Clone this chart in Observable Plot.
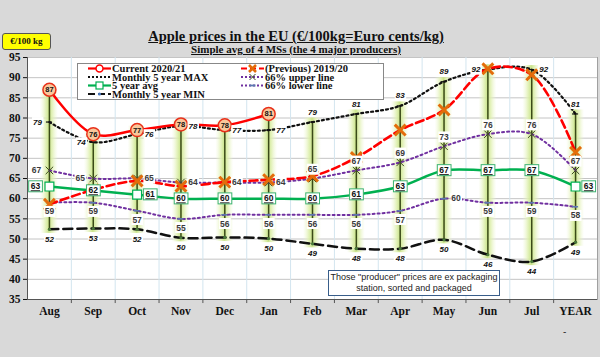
<!DOCTYPE html>
<html><head><meta charset="utf-8">
<script src="https://cdn.jsdelivr.net/npm/d3@7"></script>
<script src="https://cdn.jsdelivr.net/npm/@observablehq/plot@0.6"></script>
<style>
body{margin:0;background:#d9d9d9;}
#wrap{position:relative;width:600px;height:357px;background:#d9d9d9;overflow:hidden;font-family:"Liberation Serif",serif;}
#wrap > svg.main{position:absolute;left:0;top:0;}
.title{position:absolute;left:0;width:592px;text-align:center;font-weight:bold;text-decoration:underline;color:#111;white-space:nowrap;}
#unit{position:absolute;left:2px;top:33px;width:47px;height:15px;background:#ffff00;border:1px solid #555;border-radius:3px;font:bold 9px "Liberation Serif",serif;text-align:center;line-height:15px;color:#111;}
#note{position:absolute;left:328px;top:270px;width:170px;height:23px;background:#fff;border:1.5px solid #385d8a;font:9px "Liberation Sans",Arial,sans-serif;text-align:center;line-height:10.5px;color:#222;padding-top:1px;}
#wrap > svg#legend{position:absolute;left:77px;top:63px;}
#dash{position:absolute;left:563px;top:326px;font:10px "Liberation Sans",sans-serif;color:#333;}
</style></head><body><div id="wrap"></div><script>
const months = ["Aug","Sep","Oct","Nov","Dec","Jan","Feb","Mar","Apr","May","Jun","Jul","YEAR"];
const current2021 = [87, 76, 77, 78.4, 78.2, 81];
const previous1920 = [58.6, 62.2, 64.4, 63.1, 64.1, 64.7, 65.6, 70.2, 77, 82, 92.2, 90.7, 71.5];
const max5 = [79, 74, 76, 78, 77, 77, 79, 81, 83, 89, 92, 92, 81];
const min5 = [52.4, 52.6, 52.4, 50.3, 50.4, 50.1, 48.8, 47.6, 47.6, 49.8, 46.1, 44.4, 49.2];
const upper66 = [67, 65, 65, 64, 64, 64, 65, 67, 69, 73, 76, 76, 67];
const lower66 = [59, 59, 57, 55, 56, 56, 56, 56, 57, 60, 59, 59, 58];
const avg5 = [63, 62, 61, 60, 60, 60, 60, 61, 63, 67, 67, 67, 63];
const yTicks = [35, 40, 45, 50, 55, 60, 65, 70, 75, 80, 85, 90, 95];
const titleText = "Apple prices in the EU (€/100kg=Euro cents/kg)";
const subtitleText = "Simple avg of 4 MSs (the 4 major producers)";
const unitText = "€/100 kg";
const noteLines = ["Those \"producer\" prices are ex packaging", "station, sorted and packaged"];
const legendLabels = ["Current 2020/21", "Monthly 5 year MAX", "5 year avg", "Monthly 5 year MIN", "(Previous) 2019/20", "66% upper line", "66% lower line"];

const W = 600, H = 357, mL = 27, mR = 3, mT = 57, mB = 58;
const bw = (W - mL - mR) / months.length;
const rows = months.map((m, i) => {
  const r = {m, i, cur: current2021[i], prev: previous1920[i], max: max5[i], min: min5[i], up: upper66[i], lo: lower66[i], avg: avg5[i]};
  const vals = [r.cur, r.prev, r.max, r.min, r.up, r.lo, r.avg].filter(v => v != null);
  r.hi = d3.max(vals); r.low = d3.min(vals);
  return r;
});
const fmt = v => String(Math.round(v));
const SANS = "Liberation Sans, Arial, sans-serif";
const sel = f => rows.filter(d => f(d.i));

const plot = Plot.plot({
  width: W, height: H, marginLeft: mL, marginRight: mR, marginTop: mT, marginBottom: mB,
  style: {background: "transparent", fontFamily: "Liberation Serif, serif", fontSize: "11.5px", fontWeight: "bold", color: "#111", overflow: "visible"},
  x: {type: "band", domain: months, padding: 0, round: false, tickSize: 0, tickPadding: 7, label: null},
  y: {domain: [35, 95], ticks: yTicks, tickSize: 4, tickPadding: 3, label: null},
  marks: [
    Plot.frame({fill: "white", stroke: "#a0a0a0"}),
    Plot.ruleY(yTicks, {stroke: "#c4c4c4", strokeWidth: 1}),
    Plot.ruleX(months.slice(1), {x: d => d, dx: -bw / 2, stroke: "#d3e5ef", strokeWidth: 1}),
    Plot.barY(rows, {x: "m", y1: d => d.low - 1, y2: d => d.hi + 1, insetLeft: bw / 2 - 9, insetRight: bw / 2 - 9, fill: "url(#glow)"}),
    Plot.ruleY([35], {stroke: "#555", strokeWidth: 1}),
    Plot.ruleX([months[0]], {x: d => d, dx: -bw / 2, stroke: "#555", strokeWidth: 1}),
    Plot.ruleX(months.slice(1), {x: d => d, dx: -bw / 2, y1: 35, y2: 34, stroke: "#555"}),
    Plot.ruleX(rows, {x: "m", y1: "low", y2: "hi", stroke: "#3a4a18", strokeWidth: 1.5}),
    // 66% lines
    Plot.line(rows, {x: "m", y: "up", stroke: "#7030a0", strokeWidth: 2, strokeDasharray: "2,3", curve: "catmull-rom"}),
    Plot.line(rows, {x: "m", y: "lo", stroke: "#7030a0", strokeWidth: 2, strokeDasharray: "2,3", curve: "catmull-rom"}),
    Plot.dot(rows, {x: "m", y: "up", symbol: "times", r: 3.5, stroke: "#3d4d20", strokeWidth: 1}),
    Plot.tickY(rows, {x: "m", y: "lo", inset: bw / 2 - 3, stroke: "#5a7ab0", strokeWidth: 1.5}),
    // 5 year avg
    Plot.line(rows, {x: "m", y: "avg", stroke: "#00b050", strokeWidth: 2.5, curve: "catmull-rom"}),
    Plot.dot(rows, {x: "m", y: "avg", symbol: "square", r: 5, fill: "white", stroke: "#00b050", strokeWidth: 1.2}),
    // MAX / MIN
    Plot.line(rows, {x: "m", y: "max", stroke: "#111", strokeWidth: 2.2, strokeDasharray: "2,3", curve: "catmull-rom"}),
    Plot.tickY(rows, {x: "m", y: "max", inset: bw / 2 - 3, stroke: "#111", strokeWidth: 1.2}),
    Plot.line(rows, {x: "m", y: "min", stroke: "#111", strokeWidth: 2.5, strokeDasharray: "9,5", curve: "catmull-rom"}),
    Plot.dot(rows, {x: "m", y: "min", r: 1.6, fill: "#4a7a3a"}),
    // previous 2019/20
    Plot.line(rows, {x: "m", y: "prev", stroke: "#ff0000", strokeWidth: 2.6, strokeDasharray: "8,4", curve: "catmull-rom"}),
    Plot.dot(rows, {x: "m", y: "prev", symbol: "times", r: 5, stroke: "#e46c0a", strokeWidth: 3}),
    // current 2020/21
    Plot.line(rows.filter(d => d.cur != null), {x: "m", y: "cur", stroke: "#ff0000", strokeWidth: 2.5, curve: "catmull-rom"}),
    Plot.dot(rows.filter(d => d.cur != null), {x: "m", y: "cur", r: 6.5, fill: "#f9c79a", stroke: "#e8301a", strokeWidth: 1.5}),
    Plot.text(rows.filter(d => d.cur != null), {x: "m", y: "cur", text: d => fmt(d.cur), fontFamily: SANS, fontSize: 7.5, fontWeight: "bold", fill: "#111"}),
    // labels: MAX
    Plot.text(sel(i => i <= 1 || i === 10), {x: "m", y: "max", text: d => fmt(d.max), dx: -12, ariaDescription: "lblw", fontFamily: SANS, fontSize: 8, fontWeight: "bold", fontStyle: "italic", fill: "#111"}),
    Plot.text(sel(i => (i >= 2 && i <= 5) || i === 11), {x: "m", y: "max", text: d => fmt(d.max), dx: 12, ariaDescription: "lblw", fontFamily: SANS, fontSize: 8, fontWeight: "bold", fontStyle: "italic", fill: "#111"}),
    Plot.text(sel(i => (i >= 6 && i <= 9) || i === 12), {x: "m", y: "max", text: d => fmt(d.max), dy: -10, ariaDescription: "lblw", fontFamily: SANS, fontSize: 8, fontWeight: "bold", fontStyle: "italic", fill: "#111"}),
    // labels: upper 66
    Plot.text(sel(i => i <= 1), {x: "m", y: "up", text: d => fmt(d.up), dx: -13, ariaDescription: "lblw", fontFamily: SANS, fontSize: 8.5, fill: "#3a3a3a"}),
    Plot.text(sel(i => i >= 2 && i <= 5), {x: "m", y: "up", text: d => fmt(d.up), dx: 12, ariaDescription: "lblw", fontFamily: SANS, fontSize: 8.5, fill: "#3a3a3a"}),
    Plot.text(sel(i => i >= 6), {x: "m", y: "up", text: d => fmt(d.up), dy: -9, ariaDescription: "lblw", fontFamily: SANS, fontSize: 8.5, fill: "#3a3a3a"}),
    // labels: lower 66
    Plot.text(sel(i => i !== 9), {x: "m", y: "lo", text: d => fmt(d.lo), dy: 9, ariaDescription: "lblw", fontFamily: SANS, fontSize: 8.5, fill: "#3a3a3a"}),
    Plot.text(sel(i => i === 9), {x: "m", y: "lo", text: d => fmt(d.lo), dx: 12, ariaDescription: "lblw", fontFamily: SANS, fontSize: 8.5, fill: "#3a3a3a"}),
    // labels: MIN
    Plot.text(rows, {x: "m", y: "min", text: d => fmt(d.min), dy: 10, ariaDescription: "lblw", fontFamily: SANS, fontSize: 8, fontWeight: "bold", fontStyle: "italic", fill: "#111"}),
    // labels: avg
    Plot.text(sel(i => i === 0), {x: "m", y: "avg", text: d => fmt(d.avg), dx: -14, ariaDescription: "lblg", fontFamily: SANS, fontSize: 8.5, fontWeight: "bold", fill: "#111"}),
    Plot.text(sel(i => i === 2 || i === 12), {x: "m", y: "avg", text: d => fmt(d.avg), dx: 13, ariaDescription: "lblg", fontFamily: SANS, fontSize: 8.5, fontWeight: "bold", fill: "#111"}),
    Plot.text(sel(i => i !== 0 && i !== 2 && i !== 12), {x: "m", y: "avg", text: d => fmt(d.avg), ariaDescription: "lblg", fontFamily: SANS, fontSize: 8.5, fontWeight: "bold", fill: "#111"})
  ]
});
plot.classList.add("main");

const wrap = document.getElementById("wrap");
wrap.appendChild(plot);

// gradient for the glow behind high-low lines
const defs = d3.select(plot).insert("defs", ":first-child");
const g = defs.append("linearGradient").attr("id", "glow").attr("x1", 0).attr("x2", 1).attr("y1", 0).attr("y2", 0);
[[0, "#eef7d2", 0], [0.3, "#dff0b0", 0.8], [0.5, "#c9e38a", 1], [0.7, "#dff0b0", 0.8], [1, "#eef7d2", 0]].forEach(([o, c, a]) =>
  g.append("stop").attr("offset", o).attr("stop-color", c).attr("stop-opacity", a));

// white boxes behind labels
function boxes(label, stroke, underline) {
  d3.select(plot).selectAll(`g[aria-description="${label}"] text`).each(function () {
    const b = this.getBBox();
    const r = document.createElementNS("http://www.w3.org/2000/svg", "rect");
    const px = stroke ? 2 : 1;
    r.setAttribute("x", b.x - px); r.setAttribute("y", b.y - 0.5);
    r.setAttribute("width", b.width + 2 * px); r.setAttribute("height", b.height + 1);
    r.setAttribute("fill", "white");
    if (stroke) { r.setAttribute("stroke", stroke); r.setAttribute("stroke-width", 1); }
    const t = this.getAttribute("transform"); if (t) r.setAttribute("transform", t);
    this.parentNode.insertBefore(r, this);
    if (underline) this.setAttribute("text-decoration", "underline");
  });
}
boxes("lblw", null, false);
boxes("lblg", "#3cb371", true);

// titles, unit box, note, legend
function div(cls, id, html, css) { const d = document.createElement("div"); if (cls) d.className = cls; if (id) d.id = id; d.innerHTML = html; if (css) d.style.cssText = css; wrap.appendChild(d); return d; }
div("title", null, titleText, "top:28px;font-size:14.5px;");
div("title", null, subtitleText, "top:43px;font-size:11px;");
div(null, "unit", unitText);
const note = div(null, "note", "");
noteLines.forEach(l => { const s = document.createElement("div"); s.textContent = l; note.appendChild(s); });
div(null, "dash", "-");

const leg = d3.select(wrap).append("svg").attr("id", "legend").attr("width", 307).attr("height", 38)
  .style("font-family", "Liberation Serif, serif").style("font-weight", "bold").style("font-size", "10.5px");
leg.append("rect").attr("x", 0.5).attr("y", 0.5).attr("width", 306).attr("height", 36).attr("fill", "white").attr("stroke", "#888");
const rowsY = [5.5, 14, 22.5, 31];
function sym(x0, y, kind) {
  const x1 = x0 + 23, xm = x0 + 11.5;
  const L = (o) => leg.append("line").attr("x1", x0).attr("x2", x1).attr("y1", y).attr("y2", y).attr("stroke-width", 2.2).attr("stroke", o.c).attr("stroke-dasharray", o.d || null);
  if (kind === 0) { L({c: "#ff0000"}); leg.append("circle").attr("cx", xm).attr("cy", y).attr("r", 3.5).attr("fill", "white").attr("stroke", "#ff0000").attr("stroke-width", 1.5); }
  if (kind === 1) { L({c: "#111", d: "2,2"}); }
  if (kind === 2) { L({c: "#00b050"}); leg.append("rect").attr("x", xm - 3.5).attr("y", y - 3.5).attr("width", 7).attr("height", 7).attr("fill", "white").attr("stroke", "#00b050").attr("stroke-width", 1.2); }
  if (kind === 3) { L({c: "#111", d: "7,3"}); leg.append("circle").attr("cx", xm).attr("cy", y).attr("r", 1.6).attr("fill", "#4a7ac0"); }
  if (kind === 4) { L({c: "#ff0000", d: "6,3"}); leg.append("path").attr("d", `M${xm-3.5},${y-3.5}L${xm+3.5},${y+3.5}M${xm-3.5},${y+3.5}L${xm+3.5},${y-3.5}`).attr("stroke", "#e46c0a").attr("stroke-width", 2.6); }
  if (kind === 5) { L({c: "#7030a0", d: "2,2"}); leg.append("path").attr("d", `M${xm-3},${y-3}L${xm+3},${y+3}M${xm-3},${y+3}L${xm+3},${y-3}`).attr("stroke", "#3d4d20").attr("stroke-width", 1); }
  if (kind === 6) { L({c: "#7030a0", d: "2,2"}); leg.append("line").attr("x1", xm - 3).attr("x2", xm + 3).attr("y1", y).attr("y2", y).attr("stroke", "#5a7ab0").attr("stroke-width", 1.8); }
}
legendLabels.forEach((lab, k) => {
  const col = k < 4 ? 0 : 1, r = k < 4 ? k : k - 4;
  const x0 = col === 0 ? 11 : 164, y = rowsY[r];
  sym(x0, y, k);
  leg.append("text").attr("x", x0 + 24).attr("y", y + 3.6).attr("fill", "#111").text(lab);
});
</script></body></html>
